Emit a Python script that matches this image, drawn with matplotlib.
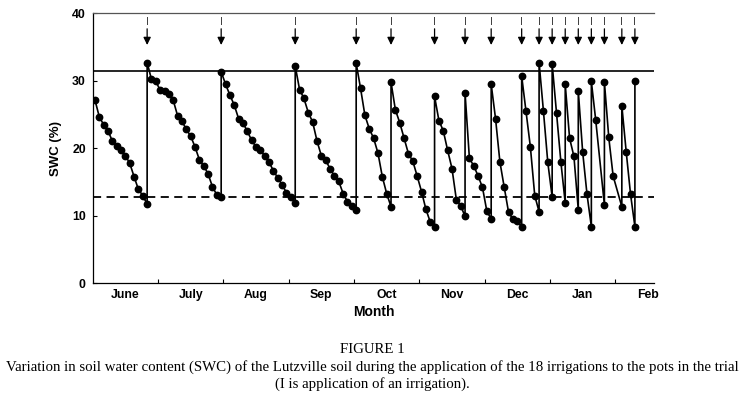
import matplotlib
matplotlib.use('Agg')
import matplotlib.pyplot as plt
from matplotlib.ticker import FixedLocator, NullFormatter

# day of trial (30-day month columns starting at June 1) and soil water content (%)
DAY = [1, 3, 5, 7, 9, 11, 13, 15, 17, 19, 21, 23, 25,
       25, 27, 29, 31, 33, 35, 37, 39, 41, 43, 45, 47, 49, 51, 53, 55, 57, 59,
       59, 61, 63, 65, 67, 69, 71, 73, 75, 77, 79, 81, 83, 85, 87, 89, 91, 93,
       93, 95, 97, 99, 101, 103, 105, 107, 109, 111, 113, 115, 117, 119, 121,
       121, 123, 125, 127, 129, 131, 133, 135, 137,
       137, 139, 141, 143, 145, 147, 149, 151, 153, 155, 157,
       157, 159, 161, 163, 165, 167, 169, 171,
       171, 173, 175, 177, 179, 181, 183,
       183, 185, 187, 189, 191, 193, 195, 197,
       197, 199, 201, 203, 205,
       205, 207, 209, 211,
       211, 213, 215, 217,
       217, 219, 221, 223,
       223, 225, 227, 229,
       229, 231, 235,
       235, 237, 239, 243,
       243, 245, 247, 249,
       249]
SWC = [27.2, 24.7, 23.5, 22.6, 21.1, 20.3, 19.7, 18.9, 17.8, 15.8, 13.9, 13.0, 11.7,
       32.7, 30.2, 29.9, 28.6, 28.5, 28.0, 27.1, 24.8, 24.0, 22.8, 21.8, 20.2, 18.3, 17.4, 16.2, 14.3, 13.1, 12.8,
       31.35, 29.5, 27.9, 26.4, 24.4, 23.8, 22.5, 21.2, 20.2, 19.7, 18.9, 17.9, 16.7, 15.6, 14.6, 13.4, 12.8, 11.9,
       32.2, 28.7, 27.4, 25.3, 23.9, 21.1, 18.9, 18.2, 17.0, 15.9, 15.1, 13.3, 12.1, 11.5, 10.9,
       32.6, 28.9, 24.9, 22.9, 21.5, 19.3, 15.8, 13.3, 11.35,
       29.8, 25.7, 23.8, 21.5, 19.2, 18.1, 15.9, 13.6, 11.0, 9.1, 8.4,
       27.7, 24.1, 22.6, 19.7, 17.0, 12.4, 11.5, 9.9,
       28.2, 18.5, 17.4, 15.9, 14.2, 10.7, 9.5,
       29.5, 24.4, 18.0, 14.2, 10.5, 9.5, 9.2, 8.4,
       30.7, 25.5, 20.2, 13.0, 10.6,
       32.7, 25.5, 17.9, 12.8,
       32.5, 25.2, 18.0, 11.9,
       29.5, 21.5, 18.8, 10.9,
       28.5, 19.5, 13.2, 8.4,
       29.9, 24.2, 11.6,
       29.8, 21.6, 15.9, 11.35,
       26.3, 19.5, 13.2, 8.4,
       30.0]

IRRIGATION_DAYS = [25, 59, 93, 121, 137, 157, 171, 183, 197, 205, 211, 217,
                   223, 229, 235, 243, 249]

UPPER_LIMIT = 31.4   # field capacity line
LOWER_LIMIT = 12.8   # refill point (dashed)

MONTHS = ['June', 'July', 'Aug', 'Sep', 'Oct', 'Nov', 'Dec', 'Jan', 'Feb']
MONTH_EDGES = [30, 60, 90, 120, 150, 180, 210, 240]
MONTH_MIDS = [15, 45, 75, 105, 135, 165, 195, 225, 255]

CAPTION = ('FIGURE 1\n'
           'Variation in soil water content (SWC) of the Lutzville soil during the '
           'application of the 18 irrigations to the pots in the trial\n'
           '(I is application of an irrigation).')

fig = plt.figure(figsize=(7.44, 3.93), dpi=100)
ax = fig.add_axes([0.1246, 0.2791, 0.7551, 0.6871])

ax.axhline(UPPER_LIMIT, color='black', lw=1.2, zorder=1)
ax.axhline(LOWER_LIMIT, color='black', lw=1.3, ls=(0, (4.5, 3)), zorder=1)

ax.plot(DAY, SWC, color='black', lw=1.2, marker='o', markersize=4.6, zorder=3)

# irrigation markers: "I" with a downward arrow
for d in IRRIGATION_DAYS:
    ax.text(d, 38.7, 'I', ha='center', va='center', fontsize=7,
            family='DejaVu Sans', color='#333333')
    ax.annotate('', xy=(d, 35.3), xytext=(d, 37.7),
                arrowprops=dict(arrowstyle='-|>,head_width=0.22,head_length=0.45',
                                color='black', lw=0.9, mutation_scale=10,
                                shrinkA=0, shrinkB=0))

ax.set_xlim(0, 258)
ax.set_ylim(0, 40)
ax.set_yticks([0, 10, 20, 30, 40])
ax.xaxis.set_major_locator(FixedLocator(MONTH_EDGES))
ax.xaxis.set_major_formatter(NullFormatter())
ax.xaxis.set_minor_locator(FixedLocator(MONTH_MIDS))
ax.set_xticklabels(MONTHS, minor=True)
ax.tick_params(axis='x', which='major', direction='in', length=3, width=0.8)
ax.tick_params(axis='x', which='minor', length=0, pad=4)
ax.tick_params(axis='y', direction='in', length=3, width=0.8, pad=5)
for lab in ax.get_xticklabels(minor=True) + ax.get_yticklabels():
    lab.set_fontweight('bold')
    lab.set_fontsize(8.8)
    lab.set_family('Liberation Sans')

ax.spines['right'].set_visible(False)
ax.spines['top'].set_color('#555555')
for s in ['left', 'bottom', 'top']:
    ax.spines[s].set_linewidth(0.9)

ax.set_ylabel('SWC (%)', fontsize=9.5, fontweight='bold', family='Liberation Sans',
              labelpad=7)
ax.set_xlabel('Month', fontsize=10, fontweight='bold', family='Liberation Sans',
              labelpad=3)

fig.text(0.5, 0.005, CAPTION, ha='center', va='bottom', fontsize=10.7,
         family='Liberation Serif', linespacing=1.32)

fig.savefig('out.png', dpi=100)
